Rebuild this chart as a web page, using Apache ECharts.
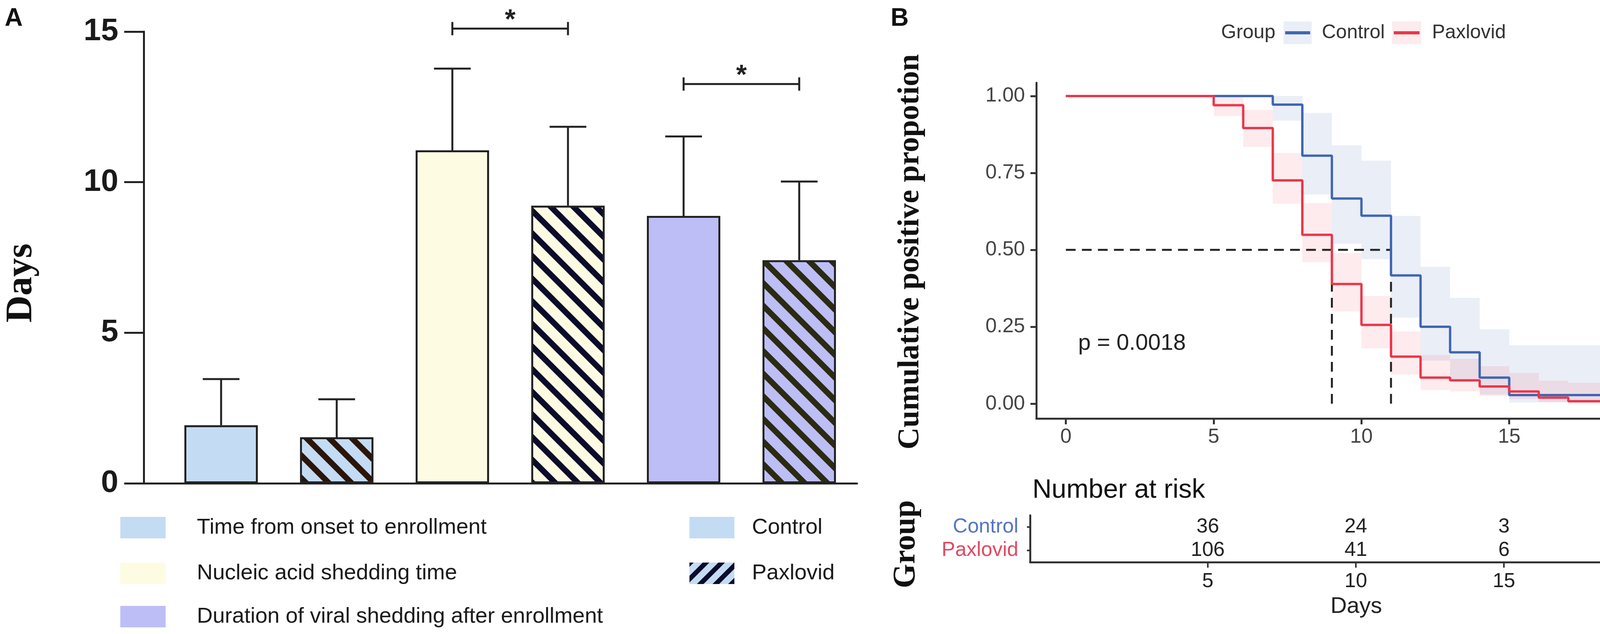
<!DOCTYPE html>
<html>
<head>
<meta charset="utf-8">
<script src="https://cdn.jsdelivr.net/npm/echarts@6.0.0/dist/echarts.min.js"></script>
<style>
  html, body { margin: 0; padding: 0; background: #fff; }
  #chart { width: 4328px; height: 1624px; }
</style>
</head>
<body>
<div id="chart"></div>
<script>
// ---- panel A data ----
var measures = ['Time from onset to enrollment', 'Nucleic acid shedding time', 'Duration of viral shedding after enrollment'];
var groups = ['Control', 'Paxlovid'];
var controlMean = [1.93, 11.06, 8.88];
var controlSD = [1.53, 2.71, 2.64];
var paxMean = [1.53, 9.22, 7.41];
var paxSD = [1.26, 2.62, 2.61];
var sigFrom = [2, 4];
var sigTo = [3, 5];
var sigHeight = [15.1, 13.26];

// ---- panel B data ----
var ctrlTime = [0, 7, 8, 9, 10, 11, 12, 13, 14, 15, 20];
var ctrlSurv = [1, 0.972, 0.806, 0.667, 0.611, 0.417, 0.25, 0.167, 0.085, 0.028, 0.005];
var ctrlLower = [1, 0.92, 0.68, 0.52, 0.47, 0.28, 0.14, 0.08, 0.03, 0.004];
var ctrlUpper = [1, 1, 0.945, 0.84, 0.79, 0.61, 0.445, 0.344, 0.242, 0.19];
var paxTime = [0, 5, 6, 7, 8, 9, 10, 11, 12, 13, 14, 15, 16, 17, 19];
var paxSurv = [1, 0.97, 0.896, 0.726, 0.549, 0.389, 0.256, 0.153, 0.085, 0.076, 0.056, 0.04, 0.02, 0.008, 0.008];
var paxLower = [1, 0.935, 0.835, 0.65, 0.46, 0.30, 0.18, 0.095, 0.045, 0.04, 0.025, 0.015, 0.006, 0.001];
var paxUpper = [1, 1, 0.955, 0.815, 0.652, 0.49, 0.35, 0.235, 0.158, 0.146, 0.122, 0.1, 0.075, 0.068];
var medianTimes = [9, 11];
var pValue = 'p = 0.0018';
var xTicksB = [0, 5, 10, 15, 20];
var yTicksB = [0, 0.25, 0.5, 0.75, 1];

// ---- number at risk ----
var riskRows = ['Paxlovid', 'Control'];
var riskTimes = [5, 10, 15, 20];
var ctrlRisk = [36, 24, 3, 1];
var paxRisk = [106, 41, 6, 0];

var fills = ['#c4dbf4', '#fdfce3', '#bebef7'];
var stripeInk = ['#2b1509', '#0b0b2b', '#2b2b12'];
var blue = '#4066b2', red = '#eb364a';
var SANS = '"Liberation Sans", Arial, sans-serif';
var SERIF = '"Liberation Serif", "Times New Roman", serif';

function stripes(bg, fg, P, w, dir) {
    var c = document.createElement('canvas');
    c.width = P; c.height = P;
    var g = c.getContext('2d');
    g.fillStyle = bg;
    g.fillRect(0, 0, P, P);
    g.fillStyle = fg;
    for (var k = -1; k <= 2; k++) {
        g.beginPath();
        if (dir > 0) {
            g.moveTo(k * P, 0); g.lineTo(k * P + w, 0);
            g.lineTo(k * P + w + P, P); g.lineTo(k * P + P, P);
        } else {
            g.moveTo(k * P, 0); g.lineTo(k * P + w, 0);
            g.lineTo(k * P + w - P, P); g.lineTo(k * P - P, P);
        }
        g.closePath();
        g.fill();
    }
    return { image: c, repeat: 'repeat' };
}

var barData = [], errData = [];
measures.forEach(function (m, i) {
    barData.push({ value: [2 * i, controlMean[i]], itemStyle: { color: fills[i] } });
    barData.push({ value: [2 * i + 1, paxMean[i]], itemStyle: { color: stripes(fills[i], stripeInk[i], 58, 21, 1) } });
    errData.push([2 * i, controlMean[i], controlSD[i]]);
    errData.push([2 * i + 1, paxMean[i], paxSD[i]]);
});
var sigData = sigFrom.map(function (f, i) { return [f, sigTo[i], sigHeight[i]]; });

function steps(t, s) { return t.map(function (x, i) { return [x, s[i]]; }); }
function bands(t, lo, hi) {
    var out = [];
    for (var i = 0; i < lo.length; i++) out.push([t[i], t[i + 1], lo[i], hi[i]]);
    return out;
}
var riskData = [];
riskTimes.forEach(function (t, i) {
    riskData.push([t, riskRows.indexOf('Control'), ctrlRisk[i]]);
    riskData.push([t, riskRows.indexOf('Paxlovid'), paxRisk[i]]);
});

var ink = '#222';
var lineStyleA = { color: ink, width: 5 };
var lineStyleB = { color: '#333', width: 5 };

function bandItem(fill) {
    return function (params, api) {
        var p0 = api.coord([api.value(0), api.value(3)]);
        var p1 = api.coord([api.value(1), api.value(2)]);
        return { type: 'rect', shape: { x: p0[0], y: p0[1], width: p1[0] - p0[0], height: p1[1] - p0[1] },
                 style: { fill: fill } };
    };
}
function dashed(pts) {
    return { type: 'line', xAxisIndex: 1, yAxisIndex: 1, symbol: 'none', z: 3, data: pts,
             lineStyle: { color: ink, width: 5, type: [25, 16] } };
}

var chart = echarts.init(document.getElementById('chart'));
var option = {
    animation: false,
    backgroundColor: '#fff',
    grid: [
        { left: 368, top: 81, width: 1826, height: 1157 },
        { left: 2653, top: 212, width: 1657, height: 860 },
        { left: 2637, top: 1320, width: 1668, height: 120 }
    ],
    xAxis: [
        { gridIndex: 0, type: 'value', min: -0.669, max: 5.5,
          axisLine: { show: true, onZero: false, lineStyle: lineStyleA },
          axisTick: { show: false }, axisLabel: { show: false }, splitLine: { show: false } },
        { gridIndex: 1, type: 'value', min: -1, max: 20.9,
          axisLine: { show: true, onZero: false, lineStyle: lineStyleB },
          axisTick: { show: true, length: 15, lineStyle: lineStyleB, customValues: xTicksB },
          axisLabel: { customValues: xTicksB, margin: 22, fontSize: 52, color: '#444', fontFamily: SANS },
          splitLine: { show: false } },
        { gridIndex: 2, type: 'value', min: -1, max: 21, position: 'bottom',
          axisLine: { show: true, onZero: false, lineStyle: lineStyleB },
          axisTick: { show: true, length: 14, lineStyle: { color: '#333', width: 4 }, customValues: riskTimes },
          axisLabel: { customValues: riskTimes, margin: 24, fontSize: 52, color: '#222', fontFamily: SANS },
          splitLine: { show: false } }
    ],
    yAxis: [
        { gridIndex: 0, type: 'value', min: 0, max: 15, interval: 5,
          axisLine: { show: true, onZero: false, lineStyle: lineStyleA },
          axisTick: { show: true, length: 50, lineStyle: lineStyleA },
          axisLabel: { margin: 65, fontSize: 80, fontWeight: 'bold', color: '#1a1a1a', fontFamily: SANS },
          splitLine: { show: false } },
        { gridIndex: 1, type: 'value', min: -0.048, max: 1.043,
          axisLine: { show: true, onZero: false, lineStyle: lineStyleB },
          axisTick: { show: true, length: 15, lineStyle: lineStyleB, customValues: yTicksB },
          axisLabel: { customValues: yTicksB, margin: 29, fontSize: 52, color: '#444', fontFamily: SANS,
                       formatter: function (v) { return v.toFixed(2); } },
          splitLine: { show: false } },
        { gridIndex: 2, type: 'category', data: riskRows,
          axisLine: { show: true, onZero: false, lineStyle: lineStyleB },
          axisTick: { show: true, length: 8, alignWithLabel: true, lineStyle: { color: '#333', width: 4 } },
          axisLabel: { interval: 0, margin: 30, fontSize: 52, fontFamily: SANS,
                       color: function (v) { return v === 'Control' ? '#5575c2' : '#e04a62'; } } }
    ],
    series: [
        { type: 'bar', xAxisIndex: 0, yAxisIndex: 0, barWidth: 188, data: barData,
          itemStyle: { borderColor: ink, borderWidth: 5 } },
        { type: 'custom', xAxisIndex: 0, yAxisIndex: 0, data: errData, z: 5,
          renderItem: function (params, api) {
              var b = api.coord([api.value(0), api.value(1)]);
              var t = api.coord([api.value(0), api.value(1) + api.value(2)]);
              var st = { stroke: ink, lineWidth: 5 };
              return { type: 'group', children: [
                  { type: 'line', shape: { x1: b[0], y1: b[1], x2: t[0], y2: t[1] }, style: st },
                  { type: 'line', shape: { x1: t[0] - 47, y1: t[1], x2: t[0] + 47, y2: t[1] }, style: st }
              ] };
          } },
        { type: 'custom', xAxisIndex: 0, yAxisIndex: 0, data: sigData, z: 5, clip: false,
          renderItem: function (params, api) {
              var a = api.coord([api.value(0), api.value(2)]);
              var c = api.coord([api.value(1), api.value(2)]);
              var st = { stroke: ink, lineWidth: 5 };
              return { type: 'group', children: [
                  { type: 'line', shape: { x1: a[0], y1: a[1], x2: c[0], y2: c[1] }, style: st },
                  { type: 'line', shape: { x1: a[0], y1: a[1] - 17, x2: a[0], y2: a[1] + 17 }, style: st },
                  { type: 'line', shape: { x1: c[0], y1: c[1] - 17, x2: c[0], y2: c[1] + 17 }, style: st },
                  { type: 'text', x: (a[0] + c[0]) / 2, y: a[1] - 20,
                    style: { text: '*', font: 'bold 70px ' + SANS, fill: ink, align: 'center', verticalAlign: 'middle' } }
              ] };
          } },
        // confidence bands
        { type: 'custom', xAxisIndex: 1, yAxisIndex: 1, z: 1,
          data: bands(ctrlTime, ctrlLower, ctrlUpper), renderItem: bandItem('rgba(64,102,178,0.11)') },
        { type: 'custom', xAxisIndex: 1, yAxisIndex: 1, z: 1,
          data: bands(paxTime, paxLower, paxUpper), renderItem: bandItem('rgba(235,54,74,0.10)') },
        // median lines
        dashed([[0, 0.5], [Math.max.apply(null, medianTimes), 0.5]]),
        dashed([[medianTimes[0], 0.5], [medianTimes[0], 0]]),
        dashed([[medianTimes[1], 0.5], [medianTimes[1], 0]]),
        // survival curves
        { name: 'Control', type: 'line', step: 'end', xAxisIndex: 1, yAxisIndex: 1, symbol: 'none', z: 4,
          data: steps(ctrlTime, ctrlSurv), lineStyle: { color: blue, width: 6 } },
        { name: 'Paxlovid', type: 'line', step: 'end', xAxisIndex: 1, yAxisIndex: 1, symbol: 'none', z: 4,
          data: steps(paxTime, paxSurv), lineStyle: { color: red, width: 6 } },
        // number at risk
        { type: 'custom', xAxisIndex: 2, yAxisIndex: 2, data: riskData,
          renderItem: function (params, api) {
              var p = api.coord([api.value(0), api.value(1)]);
              return { type: 'text', x: p[0], y: p[1],
                       style: { text: String(api.value(2)), font: '52px ' + SANS, fill: '#222',
                                align: 'center', verticalAlign: 'middle' } };
          } }
    ],
    graphic: [
        { type: 'text', x: 12, y: 48, style: { text: 'A', font: 'bold 64px ' + SANS, fill: '#111', verticalAlign: 'middle' } },
        { type: 'text', x: 2280, y: 48, style: { text: 'B', font: 'bold 64px ' + SANS, fill: '#111', verticalAlign: 'middle' } },
        { type: 'text', x: 55, y: 725, rotation: Math.PI / 2,
          style: { text: 'Days', font: 'bold 96px ' + SERIF, fill: '#111', align: 'center', verticalAlign: 'middle' } },
        // panel A legend
        { type: 'rect', shape: { x: 308, y: 1324, width: 116, height: 55 }, style: { fill: fills[0] } },
        { type: 'rect', shape: { x: 308, y: 1441, width: 116, height: 55 }, style: { fill: fills[1] } },
        { type: 'rect', shape: { x: 308, y: 1552, width: 116, height: 55 }, style: { fill: fills[2] } },
        { type: 'text', x: 504, y: 1352, style: { text: measures[0], font: '56px ' + SANS, fill: '#1a1a1a', verticalAlign: 'middle' } },
        { type: 'text', x: 504, y: 1469, style: { text: measures[1], font: '56px ' + SANS, fill: '#1a1a1a', verticalAlign: 'middle' } },
        { type: 'text', x: 504, y: 1580, style: { text: measures[2], font: '56px ' + SANS, fill: '#1a1a1a', verticalAlign: 'middle' } },
        { type: 'rect', shape: { x: 1765, y: 1324, width: 115, height: 55 }, style: { fill: fills[0] } },
        { type: 'rect', shape: { x: 1765, y: 1441, width: 115, height: 55 }, style: { fill: stripes('#c4dbf4', '#0b0b2b', 40, 17, -1) } },
        { type: 'text', x: 1925, y: 1352, style: { text: groups[0], font: '56px ' + SANS, fill: '#1a1a1a', verticalAlign: 'middle' } },
        { type: 'text', x: 1925, y: 1469, style: { text: groups[1], font: '56px ' + SANS, fill: '#1a1a1a', verticalAlign: 'middle' } },
        // panel B legend
        { type: 'text', x: 3126, y: 84, style: { text: 'Group', font: '50px ' + SANS, fill: '#333', verticalAlign: 'middle' } },
        { type: 'rect', shape: { x: 3286, y: 55, width: 72, height: 58 }, style: { fill: 'rgba(64,102,178,0.11)' } },
        { type: 'line', shape: { x1: 3290, y1: 84, x2: 3354, y2: 84 }, style: { stroke: blue, lineWidth: 8 } },
        { type: 'text', x: 3384, y: 84, style: { text: groups[0], font: '50px ' + SANS, fill: '#333', verticalAlign: 'middle' } },
        { type: 'rect', shape: { x: 3564, y: 55, width: 74, height: 58 }, style: { fill: 'rgba(235,54,74,0.10)' } },
        { type: 'line', shape: { x1: 3568, y1: 84, x2: 3634, y2: 84 }, style: { stroke: red, lineWidth: 8 } },
        { type: 'text', x: 3666, y: 84, style: { text: groups[1], font: '50px ' + SANS, fill: '#333', verticalAlign: 'middle' } },
        { type: 'text', x: 2331, y: 645, rotation: Math.PI / 2,
          style: { text: 'Cumulative positive propotion', font: 'bold 78px ' + SERIF, fill: '#111', align: 'center', verticalAlign: 'middle' } },
        { type: 'text', x: 2760, y: 880, style: { text: pValue, font: '58px ' + SANS, fill: '#222', verticalAlign: 'middle' } },
        // risk table titles
        { type: 'text', x: 2643, y: 1256, style: { text: 'Number at risk', font: '68px ' + SANS, fill: '#111', verticalAlign: 'middle' } },
        { type: 'text', x: 2320, y: 1394, rotation: Math.PI / 2,
          style: { text: 'Group', font: 'bold 80px ' + SERIF, fill: '#111', align: 'center', verticalAlign: 'middle' } },
        { type: 'text', x: 3472, y: 1554, style: { text: 'Days', font: '58px ' + SANS, fill: '#222', align: 'center', verticalAlign: 'middle' } }
    ]
};
chart.setOption(option);
</script>
</body>
</html>
